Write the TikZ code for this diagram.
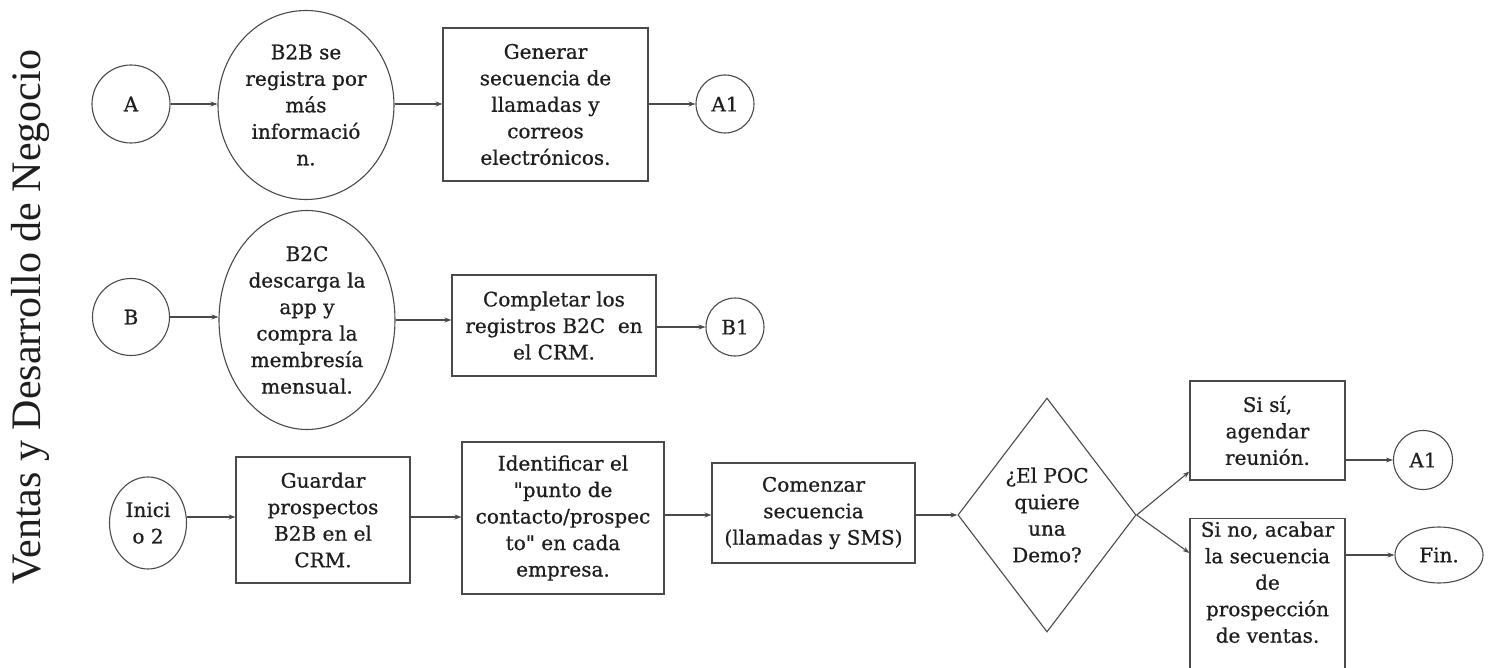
\documentclass[tikz,border=0pt]{standalone}
\usepackage{fontspec}
\setmainfont{DejaVu Serif}[Ligatures=TeXOff]
\newfontfamily\nodefont{DejaVu Serif}[Ligatures=TeXOff, FakeBold=0.7]
\newfontfamily\titlefont{Liberation Serif}
\usetikzlibrary{shapes.geometric,arrows.meta,calc}
\definecolor{linec}{HTML}{4A4A4A}
\definecolor{textc}{HTML}{1E1E1E}
\tikzset{
  base/.style={draw=linec, line width=1.1pt, inner sep=0pt, align=center, text=textc,
    font=\nodefont\fontsize{20}{26.5}\selectfont},
  boxn/.style={base, rectangle},
  circn/.style={base, circle},
  ellin/.style={base, ellipse},
  diam/.style={base, diamond},
  conn/.style={draw=linec, line width=1.1pt, -{Stealth[length=7pt,width=5pt]}},
}
\begin{document}
\begin{tikzpicture}[x=1pt,y=-1pt]
\clip (0,0) rectangle (1488,668);
\fill[white] (0,0) rectangle (1488,668);

\node[rotate=90, font=\titlefont\fontsize{42}{46}\selectfont, text=textc] (title) at (30,317) {Ventas y Desarrollo de Negocio};

% Row A
\node[circn, minimum size=78pt] (A) at (131,104) {A};
\node[ellin, minimum width=176pt, minimum height=189pt] (b2b) at (306,105) {B2B se\\registra por\\más\\informació\\n.};
\node[boxn, minimum width=205pt, minimum height=153pt] (gen) at (545.5,104.5) {Generar\\secuencia de\\llamadas y\\correos\\electrónicos.};
\node[circn, minimum size=58pt] (A1a) at (725,104) {A1};

% Row B
\node[circn, minimum size=77pt] (B) at (131,317) {B};
\node[ellin, minimum width=176pt, minimum height=219pt] (b2c) at (307,320) {B2C\\descarga la\\app y\\compra la\\membresía\\mensual.};
\node[boxn, minimum width=204pt, minimum height=101pt] (comp) at (554,325.5) {Completar los\\registros B2C\ \ en\\el CRM.};
\node[circn, minimum size=58pt] (B1) at (735,327) {B1};

% Row 3
\node[ellin, minimum width=77pt, minimum height=92pt] (ini) at (148,523) {Inici\\o 2};
\node[boxn, minimum width=174pt, minimum height=126pt] (guar) at (323,520) {Guardar\\prospectos\\B2B en el\\CRM.};
\node[boxn, minimum width=202pt, minimum height=152pt] (ident) at (563,518) {Identificar el\\"punto de\\contacto/prospec\\to" en cada\\empresa.};
\node[boxn, minimum width=203pt, minimum height=100pt] (comz) at (813.5,513) {Comenzar\\secuencia\\(llamadas y SMS)};
\node[diam, minimum width=168pt, minimum height=234pt] (dec) at (1047,515) {¿El POC\\quiere\\una\\Demo?};
\node[boxn, minimum width=155pt, minimum height=99pt] (sisi) at (1267.5,430.5) {Si sí,\\agendar\\reunión.};
\node[boxn, minimum width=155pt, minimum height=156pt, anchor=north] (sino) at (1267.5,518) {};
\node[base, draw=none, anchor=north, align=center] (sinot) at (1267.5,521) {Si no, acabar\\la secuencia\\de\\prospección\\de ventas.};
\node[circn, minimum size=59pt] (A1b) at (1423,460) {A1};
\node[ellin, minimum width=88pt, minimum height=56pt] (fin) at (1439,555) {Fin.};

% Connectors
\draw[conn] (A.east) -- (A.east -| b2b.west);
\draw[conn] (b2b.east |- A.east) -- (gen.west |- A.east);
\draw[conn] (gen.east |- A1a.west) -- (A1a.west);

\draw[conn] (B.east) -- (B.east -| b2c.west);
\draw[conn] (b2c.east) -- (b2c.east -| comp.west);
\draw[conn] (comp.east |- B1.west) -- (B1.west);

\draw[conn] (ini.east) ++(0,-6) coordinate (c1) -- (c1 -| guar.west);
\draw[conn] (c1 -| guar.east) -- (c1 -| ident.west);
\draw[conn] (ident.east |- dec.west) -- (comz.west |- dec.west);
\draw[conn] (comz.east |- dec.west) -- (dec.west);
\draw[conn] (dec.east) -- ($(sisi.south west)+(0,-9)$);
\draw[conn] (dec.east) -- ($(sino.north west)+(0,35)$);
\draw[conn] (sisi.east |- A1b.west) -- (A1b.west);
\draw[conn] (sino.east |- fin.west) -- (fin.west);
\end{tikzpicture}
\end{document}
